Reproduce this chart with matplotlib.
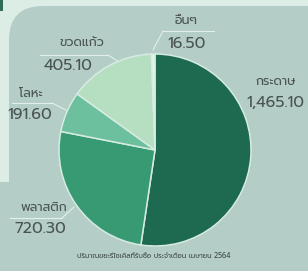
import matplotlib
matplotlib.use("Agg")
import matplotlib.pyplot as plt
from matplotlib.patches import Rectangle, FancyBboxPatch

categories = ["กระดาษ", "พลาสติก", "โลหะ", "ขวดแก้ว", "อื่นๆ"]
values = [1465.10, 720.30, 191.60, 405.10, 16.50]
value_labels = ["1,465.10", "720.30", "191.60", "405.10", "16.50"]
colors = ["#1e6a51", "#389a73", "#6cc09e", "#b6dfc1", "#e6f3ec"]
caption = "ปริมาณขยะรีไซเคิลที่รับซื้อ ประจำเดือน เมษายน 2564"

FONT = ["Prompt", "DejaVu Sans"]
W, H = 308, 271
fig = plt.figure(figsize=(W / 100, H / 100), dpi=100)
fig.patch.set_facecolor("#b4cdc7")

# background decoration in pixel coordinates
bg = fig.add_axes([0, 0, 1, 1], zorder=0)
bg.set_xlim(0, W)
bg.set_ylim(H, 0)
bg.axis("off")
light = "#dcede6"
gray = "#b4cdc7"
bg.add_patch(Rectangle((0, 0), W, 6, color=light, lw=0))
bg.add_patch(Rectangle((0, 0), 9, 182, color=light, lw=0))
bg.add_patch(Rectangle((0, 0), 60, 60, color=light, lw=0))
bg.add_patch(FancyBboxPatch((9 + 34, 6 + 34), 500, 500,
                            boxstyle="round,pad=34,rounding_size=34",
                            color=gray, lw=0))
bg.add_patch(Rectangle((0, 0), 2.5, 11, color="#2e6e55", lw=0))

# leader lines
lc = "#e2efea"
lines = [
    [(163, 31), (214, 31)], [(163, 31), (153, 50)],
    [(40, 55), (108, 55)], [(108, 55), (122, 64)],
    [(12, 103), (52, 103)], [(52, 103), (66, 110)],
    [(10, 218), (62, 218)], [(62, 218), (74, 207)],
]
for ln in lines:
    (x0, y0), (x1, y1) = ln
    bg.plot([x0, x1], [y0, y1], color=lc, lw=0.8)

# pie
cx, cy, r = 155, 150, 96
ax = fig.add_axes([(cx - r) / W, (H - cy - r) / H, 2 * r / W, 2 * r / H], zorder=1)
ax.pie(values, colors=colors, startangle=90, counterclock=False,
       wedgeprops=dict(edgecolor="#d6ebe2", linewidth=1.1))
ax.set_xlim(-1, 1)
ax.set_ylim(-1, 1)
ax.set_aspect("auto")
ax.axis("off")

tc = "#4a5451"
label_pos = {
    "กระดาษ": ((276, 82), (275, 103)),
    "พลาสติก": ((44, 208), (40, 229)),
    "โลหะ": ((31, 94), (30, 115)),
    "ขวดแก้ว": ((82, 43), (68, 66)),
    "อื่นๆ": ((186, 21), (187, 44)),
}
for cat, vl in zip(categories, value_labels):
    (lx, ly), (vx, vy) = label_pos[cat]
    bg.text(lx, ly, cat, ha="center", va="center", fontsize=9, color=tc,
            family=FONT)
    bg.text(vx, vy, vl, ha="center", va="center", fontsize=11.5, color=tc,
            family=FONT)

bg.text(154, 256, caption, ha="center", va="center", fontsize=5, color="#3e4846",
        family=FONT)

fig.savefig("out.png", dpi=100, facecolor=fig.get_facecolor())
